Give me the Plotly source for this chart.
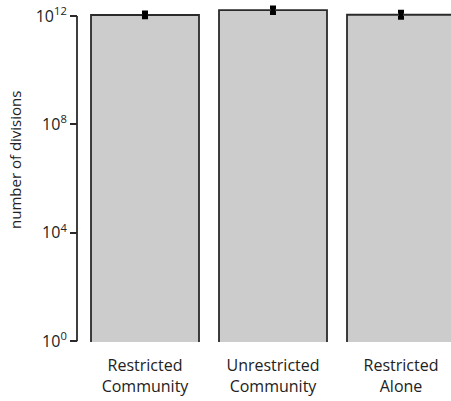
import plotly.graph_objects as go

categories = ["Restricted<br>Community", "Unrestricted<br>Community", "Restricted<br>Alone"]
means = [1.10e12, 1.66e12, 1.12e12]
upper = [1.35e12, 2.10e12, 1.45e12]
lower = [0.90e12, 1.31e12, 0.87e12]
ytick_vals = [1, 1e4, 1e8, 1e12]
ytick_text = ["10<sup>0</sup>", "10<sup>4</sup>", "10<sup>8</sup>", "10<sup>12</sup>"]

xpos = list(range(len(categories)))
err_plus = [u - m for u, m in zip(upper, means)]
err_minus = [m - l for m, l in zip(means, lower)]

W, H = 451, 401
ml, mr, mt, mb = 77, 0, 5, 59
plot_w = W - ml - mr
plot_h = H - mt - mb
px_per_unit = 128.0
bar_center_px = 145.0
left_px = 85.0
dom0 = (left_px - ml) / plot_w
xr = [-(bar_center_px - left_px) / px_per_unit, (W - bar_center_px) / px_per_unit]
yr = [-0.03, 12.41]

def ypaper(logv):
    return (logv - yr[0]) / (yr[1] - yr[0])

font_family = "Open Sans, Lato, sans-serif"
dark = "#2a2a2a"

fig = go.Figure()
fig.add_trace(go.Bar(
    x=xpos, y=means, width=108 / 128,
    marker=dict(color="#cccccc", line=dict(color=dark, width=1.8)),
    error_y=dict(type="data", symmetric=False, array=err_plus, arrayminus=err_minus,
                 color="black", thickness=4, width=3),
))

fig.add_shape(type="line", xref="paper", yref="paper", x0=0, x1=0,
              y0=ypaper(0), y1=ypaper(12), line=dict(color=dark, width=1.8))

fig.add_annotation(text="number of divisions", xref="paper", yref="paper",
                   x=(15 - ml) / plot_w, y=(H - mb - 160) / plot_h, textangle=-90,
                   showarrow=False, font=dict(size=15, color="#222222", family=font_family),
                   xanchor="center", yanchor="middle")

fig.update_layout(
    width=W, height=H,
    margin=dict(l=ml, r=mr, t=mt, b=mb, autoexpand=False),
    plot_bgcolor="white", paper_bgcolor="white",
    showlegend=False,
    font=dict(family=font_family, size=14, color="#222222"),
    xaxis=dict(domain=[dom0, 1], range=xr, tickvals=xpos, ticktext=categories,
               showline=False, showgrid=False, zeroline=False, automargin=False,
               ticks="outside", ticklen=9, tickcolor="rgba(0,0,0,0)",
               tickfont=dict(size=16)),
    yaxis=dict(type="log", range=yr, anchor="free", position=0, automargin=False,
               tickvals=ytick_vals, ticktext=ytick_text,
               showline=False, showgrid=False, zeroline=False,
               ticks="outside", ticklen=7, tickwidth=1.8, tickcolor=dark,
               tickfont=dict(size=16)),
)

fig.write_html("out.html", config={"displayModeBar": False},
               post_script="document.body.style.margin='0';document.body.style.overflow='hidden';")
